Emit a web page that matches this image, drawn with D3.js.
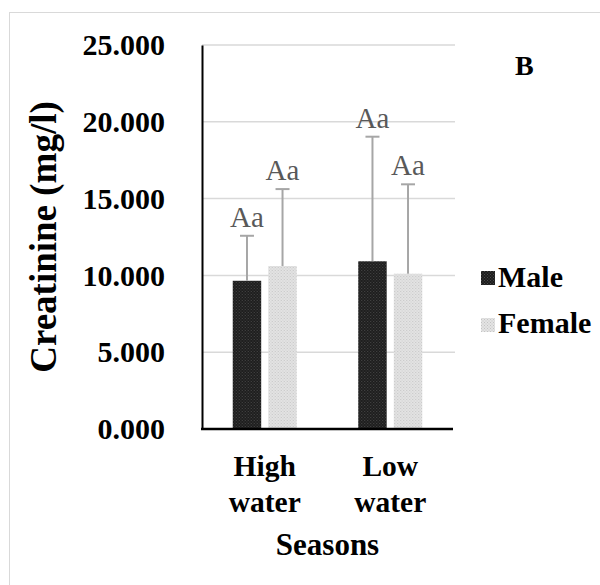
<!DOCTYPE html>
<html>
<head>
<meta charset="utf-8">
<script src="https://cdn.jsdelivr.net/npm/d3@7"></script>
<style>
  body { margin: 0; background: #fff; }
  text { font-family: "Liberation Serif", "Times New Roman", serif; }
</style>
</head>
<body>
<div id="chart"></div>
<script>
// data
var seasons = ["High water", "Low water"];
var sexes = ["Male", "Female"];
var creatinine = [
    [9.65, 10.61],   // High water: male, female
    [10.92, 10.11]   // Low water: male, female
];
var errorTop = [
    [12.58, 15.62],
    [19.03, 15.93]
];
var letters = [
    ["Aa", "Aa"],
    ["Aa", "Aa"]
];
var yTicks = [0, 5, 10, 15, 20, 25];

var W = 600, H = 585;
var margin = {top: 45, right: 147, bottom: 156, left: 202};
var width = W - margin.left - margin.right,
    height = H - margin.top - margin.bottom;

var svg = d3.select("#chart").append("svg")
    .attr("width", W)
    .attr("height", H);

// dotted fills like the office patterns
var defs = svg.append("defs");
function dots(id, base, dot) {
    var p = defs.append("pattern")
        .attr("id", id)
        .attr("width", 3).attr("height", 3)
        .attr("patternUnits", "userSpaceOnUse");
    p.append("rect").attr("width", 3).attr("height", 3).attr("fill", base);
    p.append("rect").attr("width", 1).attr("height", 1).attr("fill", dot);
    p.append("rect").attr("x", 1.5).attr("y", 1.5).attr("width", 1).attr("height", 1).attr("fill", dot);
}
dots("pMale", "#1c1c1c", "#4a4a4a");
dots("pFemale", "#e4e4e4", "#c4c4c4");
var fills = {Male: "url(#pMale)", Female: "url(#pFemale)"};

// outer frame
svg.append("rect")
    .attr("x", 9.5).attr("y", 12.5)
    .attr("width", W).attr("height", H)
    .attr("fill", "none")
    .attr("stroke", "#d9d9d9");

var g = svg.append("g")
    .attr("transform", "translate(" + margin.left + "," + margin.top + ")");

var x0 = d3.scaleBand().domain(seasons).range([0, width])
    .paddingInner(0.49).paddingOuter(0.245);
var x1 = d3.scaleBand().domain(sexes).range([0, x0.bandwidth()])
    .paddingInner(0.2);
var y = d3.scaleLinear().domain([0, 25]).range([height, 0]);

// gridlines
g.append("g").selectAll("line")
    .data(yTicks.slice(1))
    .enter().append("line")
    .attr("x1", 0).attr("x2", width + 2)
    .attr("y1", function (d) { return y(d); })
    .attr("y2", function (d) { return y(d); })
    .attr("stroke", "#d9d9d9")
    .attr("stroke-width", 1.5);

// bars
var grp = g.selectAll(".season")
    .data(seasons)
    .enter().append("g")
    .attr("class", "season")
    .attr("transform", function (d) { return "translate(" + x0(d) + ",0)"; });

grp.each(function (s, i) {
    var sel = d3.select(this);
    sexes.forEach(function (sx, j) {
        var v = creatinine[i][j], e = errorTop[i][j];
        var cx = x1(sx) + x1.bandwidth() / 2;
        sel.append("rect")
            .attr("x", x1(sx))
            .attr("y", y(v))
            .attr("width", x1.bandwidth())
            .attr("height", height - y(v))
            .attr("fill", fills[sx]);
        sel.append("line")
            .attr("x1", cx).attr("x2", cx)
            .attr("y1", y(v)).attr("y2", y(e))
            .attr("stroke", "#a6a6a6").attr("stroke-width", 2);
        sel.append("line")
            .attr("x1", cx - 7).attr("x2", cx + 7)
            .attr("y1", y(e)).attr("y2", y(e))
            .attr("stroke", "#a6a6a6").attr("stroke-width", 2);
        sel.append("text")
            .attr("x", cx)
            .attr("y", y(e) - 9)
            .attr("text-anchor", "middle")
            .attr("fill", "#595959")
            .style("font-size", "29px")
            .text(letters[i][j]);
    });
});

// y axis
var yAxis = g.append("g")
    .call(d3.axisLeft(y).tickValues(yTicks).tickFormat(d3.format(".3f")).tickSize(0).tickPadding(37));
yAxis.select(".domain").attr("stroke", "#000").attr("stroke-width", 2);
yAxis.selectAll("text")
    .style("font-size", "30px")
    .style("font-weight", "bold")
    .attr("fill", "#000");

// x axis line
g.append("line")
    .attr("x1", -1).attr("x2", width)
    .attr("y1", height).attr("y2", height)
    .attr("stroke", "#000").attr("stroke-width", 2.5);

// category labels (two lines)
g.selectAll(".cat")
    .data(seasons)
    .enter().append("text")
    .attr("class", "cat")
    .attr("text-anchor", "middle")
    .attr("x", function (d) { return x0(d) + x0.bandwidth() / 2; })
    .attr("y", height + 47)
    .style("font-size", "29.5px")
    .style("font-weight", "bold")
    .each(function (d) {
        var parts = d.split(" ");
        var t = d3.select(this);
        parts.forEach(function (p, k) {
            t.append("tspan")
                .attr("x", x0(d) + x0.bandwidth() / 2)
                .attr("dy", k === 0 ? 0 : 36)
                .text(p);
        });
    });

// axis titles
g.append("text")
    .attr("text-anchor", "middle")
    .attr("x", width / 2)
    .attr("y", height + 126)
    .style("font-size", "31px")
    .style("font-weight", "bold")
    .text("Seasons");

svg.append("text")
    .attr("text-anchor", "middle")
    .attr("transform", "translate(56,237) rotate(-90)")
    .style("font-size", "37px")
    .style("font-weight", "bold")
    .text("Creatinine (mg/l)");

// panel letter
svg.append("text")
    .attr("x", 515).attr("y", 75)
    .style("font-size", "28px")
    .style("font-weight", "bold")
    .text("B");

// legend
var leg = svg.append("g").attr("transform", "translate(481,271)");
sexes.forEach(function (sx, j) {
    leg.append("rect")
        .attr("x", 0).attr("y", j * 47)
        .attr("width", 14).attr("height", 14)
        .attr("fill", fills[sx]);
    leg.append("text")
        .attr("x", 17).attr("y", j * 46 + 16)
        .style("font-size", "30px")
        .style("font-weight", "bold")
        .text(sx);
});
</script>
</body>
</html>
